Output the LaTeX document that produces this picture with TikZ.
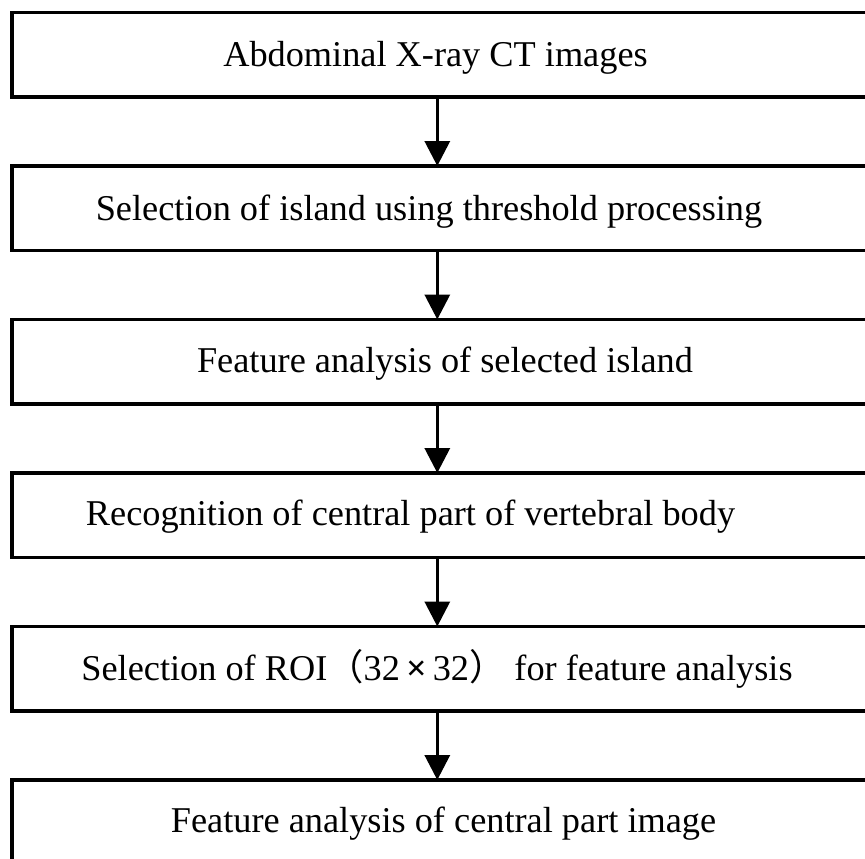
\documentclass[tikz,border=0pt]{standalone}
\usepackage{fontspec}
\setmainfont{Liberation Serif}
\newfontfamily\cjkf{Noto Sans CJK JP}
\usetikzlibrary{arrows.meta}
\begin{document}
\begin{tikzpicture}[x=1pt,y=-1pt,
  box/.style={draw=black, line width=3.2pt, rectangle, minimum width=900pt, minimum height=84.5pt, inner sep=0pt, outer sep=0pt, anchor=north west},
  lbl/.style={inner sep=0pt, outer sep=0pt, anchor=base, font=\fontsize{36.3}{40}\selectfont},
  arr/.style={line width=3.4pt, -{Triangle[width=25pt,length=25pt]}}]
\useasboundingbox (0,0) rectangle (865,859);
\clip (0,0) rectangle (865,859);
\fill[white] (0,0) rectangle (865,859);
\node[box] (b1) at (12,12.5) {};
\node[box] (b2) at (12,166) {};
\node[box] (b3) at (12,319.5) {};
\node[box] (b4) at (12,473) {};
\node[box] (b5) at (12,626.5) {};
\node[box] (b6) at (12,780) {};
\node[lbl] (t1) at (435.5,66.5) {Abdominal X-ray CT images};
\node[lbl] (t2) at (429,220) {Selection of island using threshold processing};
\node[lbl] (t3) at (445,372) {Feature analysis of selected island};
\node[lbl] (t4) at (410.5,525) {Recognition of central part of vertebral body};
\node[lbl] (t5) at (437,680) {Selection of ROI{\cjkf （}32\,\textbf{×}\,32{\cjkf ）} for feature analysis};
\node[lbl] (t6) at (443.5,832) {Feature analysis of central part image};
\coordinate (ax) at (437.3,0);
\draw[arr] (b1.south -| ax) -- (b2.north -| ax);
\draw[arr] (b2.south -| ax) -- (b3.north -| ax);
\draw[arr] (b3.south -| ax) -- (b4.north -| ax);
\draw[arr] (b4.south -| ax) -- (b5.north -| ax);
\draw[arr] (b5.south -| ax) -- (b6.north -| ax);
\end{tikzpicture}
\end{document}
